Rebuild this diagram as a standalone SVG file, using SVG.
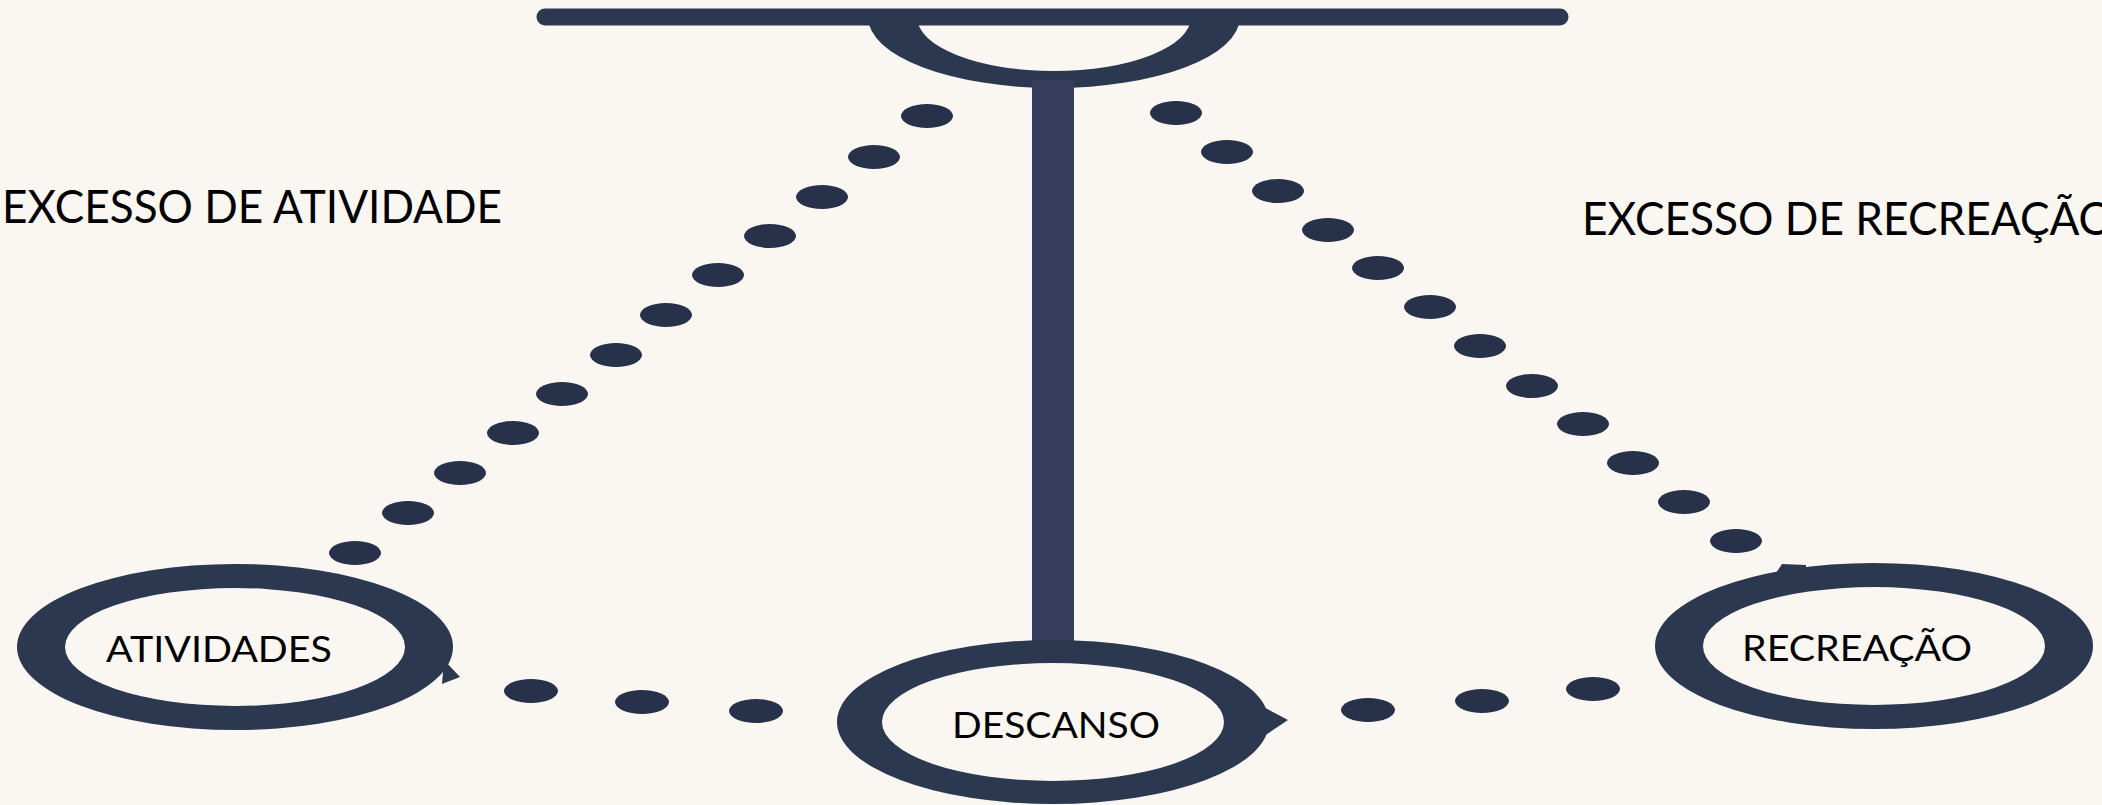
<svg xmlns="http://www.w3.org/2000/svg" width="2102" height="805" viewBox="0 0 2102 805">
<style>
.ring{fill:#2b3850;fill-rule:evenodd}
.dot{fill:#27314a}
.lbl{font-family:Lato,"Open Sans","Liberation Sans",sans-serif;fill:#000;font-size:37px}
.big{font-size:47px}
</style>
<rect width="2102" height="805" fill="#faf7f2"/>
<g id="balance">
<path d="M868,17 A186,71 0 0,0 1240,17 L1191,17 A137,54 0 0,1 917,17 Z" fill="#2b3850"/>
<line x1="545" y1="17" x2="1560" y2="17" stroke="#2b3850" stroke-width="17" stroke-linecap="round"/>
<rect x="1032" y="80" width="42" height="568" fill="#363e5c"/>
</g>
<g id="connectors">
<ellipse class="dot" cx="927" cy="116" rx="26" ry="12"/>
<ellipse class="dot" cx="874" cy="157" rx="26" ry="12"/>
<ellipse class="dot" cx="822" cy="197" rx="26" ry="12"/>
<ellipse class="dot" cx="770" cy="236" rx="26" ry="12"/>
<ellipse class="dot" cx="718" cy="275" rx="26" ry="12"/>
<ellipse class="dot" cx="666" cy="315" rx="26" ry="12"/>
<ellipse class="dot" cx="616" cy="355" rx="26" ry="12"/>
<ellipse class="dot" cx="562" cy="394" rx="26" ry="12"/>
<ellipse class="dot" cx="513" cy="433" rx="26" ry="12"/>
<ellipse class="dot" cx="460" cy="473" rx="26" ry="12"/>
<ellipse class="dot" cx="408" cy="513" rx="26" ry="12"/>
<ellipse class="dot" cx="355" cy="553" rx="26" ry="12"/>
<ellipse class="dot" cx="1176" cy="113" rx="26" ry="12"/>
<ellipse class="dot" cx="1227" cy="152" rx="26" ry="12"/>
<ellipse class="dot" cx="1278" cy="191" rx="26" ry="12"/>
<ellipse class="dot" cx="1328" cy="230" rx="26" ry="12"/>
<ellipse class="dot" cx="1378" cy="268" rx="26" ry="12"/>
<ellipse class="dot" cx="1430" cy="307" rx="26" ry="12"/>
<ellipse class="dot" cx="1480" cy="346" rx="26" ry="12"/>
<ellipse class="dot" cx="1532" cy="386" rx="26" ry="12"/>
<ellipse class="dot" cx="1583" cy="424" rx="26" ry="12"/>
<ellipse class="dot" cx="1633" cy="463" rx="26" ry="12"/>
<ellipse class="dot" cx="1684" cy="502" rx="26" ry="12"/>
<ellipse class="dot" cx="1736" cy="541" rx="26" ry="12"/>
<ellipse class="dot" cx="531" cy="691" rx="27" ry="12"/>
<ellipse class="dot" cx="642" cy="702" rx="27" ry="12"/>
<ellipse class="dot" cx="756" cy="711" rx="27" ry="12"/>
<ellipse class="dot" cx="1368" cy="710" rx="27" ry="12"/>
<ellipse class="dot" cx="1482" cy="701" rx="27" ry="12"/>
<ellipse class="dot" cx="1593" cy="689" rx="27" ry="12"/>
</g>
<g id="node-atividades">
<path class="ring" d="M17,647 a218,83 0 1,0 436,0 a218,83 0 1,0 -436,0 Z M65,647 a170,59 0 1,0 340,0 a170,59 0 1,0 -340,0 Z"/>
<path class="ring" d="M444,660 L460,677 L442,684 Z"/>
<text class="lbl" x="106" y="662" textLength="226" lengthAdjust="spacingAndGlyphs">ATIVIDADES</text>
</g>
<g id="node-descanso">
<path class="ring" d="M837,722 a216,82 0 1,0 432,0 a216,82 0 1,0 -432,0 Z M882,722 a171,59 0 1,0 342,0 a171,59 0 1,0 -342,0 Z"/>
<path class="ring" d="M1258,704 L1288,720 L1258,740 Z"/>
<text class="lbl" x="952" y="738" textLength="208" lengthAdjust="spacingAndGlyphs">DESCANSO</text>
</g>
<g id="node-recreacao">
<path class="ring" d="M1655,646 a219,83 0 1,0 438,0 a219,83 0 1,0 -438,0 Z M1703,646 a171,59 0 1,0 342,0 a171,59 0 1,0 -342,0 Z"/>
<path class="ring" d="M1774,576 L1782,564 L1806,565 L1806,572 Z"/>
<text class="lbl" x="1742" y="661" textLength="230" lengthAdjust="spacingAndGlyphs">RECREAÇÃO</text>
</g>
<g id="label-excesso-atividade">
<text class="lbl big" x="2" y="223" textLength="500" lengthAdjust="spacingAndGlyphs">EXCESSO DE ATIVIDADE</text>
</g>
<g id="label-excesso-recreacao">
<text class="lbl big" x="1582" y="235" textLength="532" lengthAdjust="spacingAndGlyphs">EXCESSO DE RECREAÇÃO</text>
</g>
</svg>
